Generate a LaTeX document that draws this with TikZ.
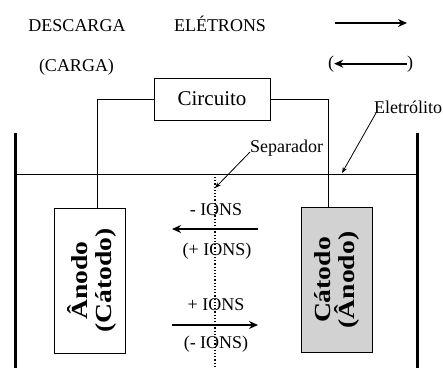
\documentclass[tikz,border=0pt]{standalone}
\usepackage{fontspec}
\setmainfont{Liberation Serif}
\usetikzlibrary{arrows.meta,positioning}

\definecolor{catgray}{RGB}{210,210,210}

\begin{document}
\begin{tikzpicture}[
  x=1pt,y=-1pt,
  >=Stealth,
  txt/.style={inner sep=0pt,anchor=base,font=\fontsize{18}{21}\selectfont},
  wire/.style={line width=0.8pt},
  wall/.style={line width=3pt},
  bigarrow/.style={line width=2pt,-{Stealth[length=9pt,width=8pt]}},
  pointer/.style={line width=0.8pt,-{Stealth[length=6pt,width=4.5pt]}},
  electrode/.style={draw,line width=0.8pt,rectangle,minimum width=71pt,
                    minimum height=145pt,inner sep=0pt},
  eltext/.style={yscale=1.2,rotate=90,align=center,inner sep=0pt,
                 font=\fontsize{23}{24}\selectfont\bfseries},
]
\useasboundingbox (0,0) rectangle (443,368);

%% ============================================================
%% Legend (top)
%% ============================================================
\node[txt] (desc)  at (77,31)   {DESCARGA};
\node[txt] (carga) at (76.5,71) {(CARGA)};
\node[txt] (elec)  at (220,31)  {ELÉTRONS};

% --- electron direction arrows ---
\coordinate (eA) at (335,23);
\coordinate (eB) at (407,23);
\draw[bigarrow] (eA) -- (eB);

\node[txt] (popen)  at (331,68) {(};
\node[txt] (pclose) at (410,68) {)};
\draw[bigarrow] (pclose.west) -- (popen.east);

%% ============================================================
%% Cell: circuit, electrodes, container
%% ============================================================
\node[draw,wire,minimum width=116pt,minimum height=42pt,inner sep=0pt,
      font=\fontsize{21}{24}\selectfont] (circ) at (212,99) {Circuito};

% --- electrodes ---
\node[electrode] (anode) at (89.5,280.5) {};
\node[eltext] (anodetxt) at ([xshift=2pt]anode.center) {Ânodo\\(Cátodo)};

\node[electrode,fill=catgray] (cathode) at (336.5,280) {};
\node[eltext] (cathodetxt) at (cathode) {Cátodo\\(Ânodo)};

\draw[wire] (circ.west) -| ([xshift=8pt]anode.north);
\draw[wire] (circ.east) -| ([xshift=-8.5pt]cathode.north);

% --- container walls and electrolyte level ---
\coordinate (wallLt) at (15,133);
\coordinate (wallLb) at (15,368);
\coordinate (wallRt) at (417,133);
\coordinate (wallRb) at (417,368);
\draw[wall] (wallLt) -- (wallLb);
\draw[wall] (wallRt) -- (wallRb);

\coordinate (levelL) at (15,174);
\coordinate (levelR) at (417,174);
\draw[wire] (levelL) -- (levelR);

% --- separator ---
\coordinate (sepT) at (215,177);
\coordinate (sepB) at (215,368);
\draw[line width=1.2pt,dotted] (sepT) -- (sepB);

\node[txt,anchor=base west] (seplbl) at (250,152) {Separador};
\coordinate (septip) at (215,188);
\draw[pointer] (seplbl.base west) -- (septip);

\node[txt,anchor=base west] (elelbl) at (374,113) {Eletrólito};
\coordinate (eletip) at (342,173);
\draw[pointer] ([xshift=2pt]elelbl.base west) -- (eletip);

%% ============================================================
%% Ion flow
%% ============================================================
\node[txt] (negions)  at (216,215) {- IONS};
\node[txt] (posionsp) at (217,255) {(+ IONS)};
\node[txt] (posions)  at (216,310) {+ IONS};
\node[txt] (negionsp) at (216,348) {(- IONS)};

\coordinate (ionLa) at (258,229);
\coordinate (ionLb) at (172,229);
\coordinate (ionRa) at (172,325);
\coordinate (ionRb) at (258,325);
\draw[bigarrow] (ionLa) -- (ionLb);
\draw[bigarrow] (ionRa) -- (ionRb);

\end{tikzpicture}
\end{document}
